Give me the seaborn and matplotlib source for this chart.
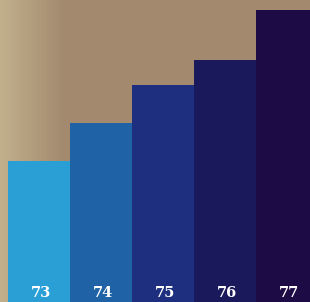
import matplotlib
matplotlib.use("Agg")
import matplotlib.pyplot as plt
import seaborn as sns
import numpy as np
import pandas as pd

sns.set_theme(style="white")

# data (bar heights in relative units)
years = ["73", "74", "75", "76", "77"]
values = [141, 179, 217, 242, 292]
colors = ["#2a9fd6", "#1f62a6", "#1d2f7e", "#19195c", "#1c0b45"]

df = pd.DataFrame({"Year": years, "Value": values})

fig = plt.figure(figsize=(3.10, 3.02), dpi=100)
fig.patch.set_facecolor("#a38b6f")

# soft lighter band on the left of the backdrop
bg = fig.add_axes([0, 0, 1, 1], zorder=0)
grad = np.linspace(0, 1, 310)
shade = np.clip(grad / 0.2, 0, 1)
left = np.array([0.76, 0.69, 0.55])
right = np.array([0.64, 0.545, 0.435])
img = left[None, :] * (1 - shade[:, None]) + right[None, :] * shade[:, None]
bg.imshow(img[None, :, :], aspect="auto", extent=[0, 1, 0, 1])
bg.set_axis_off()

ax = fig.add_axes([8 / 310, 0, 310 / 310, 1], zorder=1)
ax.patch.set_alpha(0)
sns.barplot(data=df, x="Year", y="Value", hue="Year", palette=colors,
            width=1.0, legend=False, ax=ax, saturation=1, linewidth=0)
ax.set_ylim(0, 302)
ax.set_xlim(-0.5, 4.5)
ax.set_axis_off()

for i, y in enumerate(years):
    ax.text(i + 0.03, 9, y, ha="center", va="center", color="white",
            fontsize=10.5, fontweight="bold", family="DejaVu Serif")

fig.savefig("out.png", dpi=100)
